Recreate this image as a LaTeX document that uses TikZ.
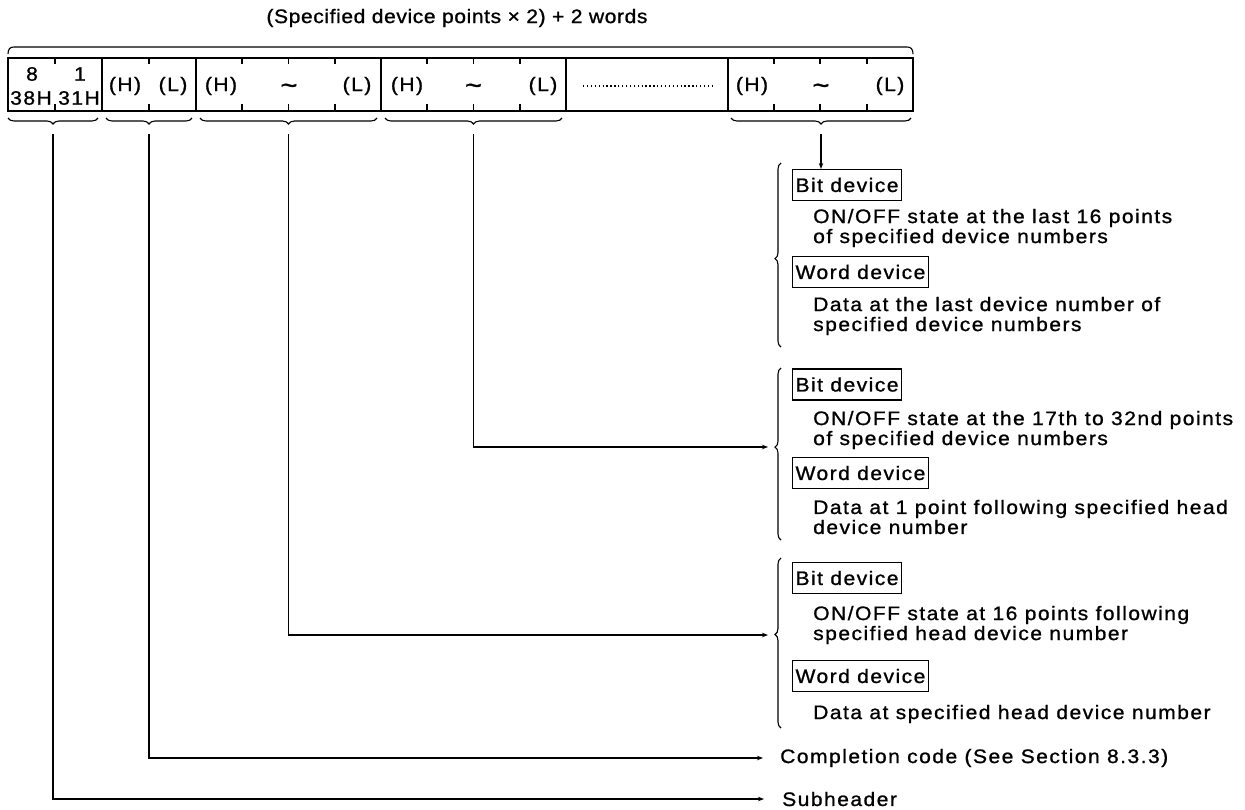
\documentclass[tikz,border=0pt]{standalone}
\usepackage{fontspec}
\setmainfont{Liberation Sans}[FakeStretch=1.08,LetterSpace=7.5,FakeBold=1]
\newfontfamily\titlefont{Liberation Sans}[FakeStretch=1.08,LetterSpace=3,FakeBold=1]
\usetikzlibrary{decorations.pathreplacing,arrows.meta}
\begin{document}
\begin{tikzpicture}[x=1pt,y=-1pt,
  txt/.style={inner sep=0pt, font=\fontsize{19.5}{20}\selectfont},
  lbl/.style={txt, anchor=west, align=left},
  devbox/.style={draw, line width=1.1pt, inner xsep=3pt, inner ysep=0pt, minimum height=31pt, anchor=west, font=\fontsize{19.5}{20}\selectfont},
  frameline/.style={line width=1.3pt},
  conn/.style={line width=1.1pt},
  arr/.style={conn, -{Stealth[length=6pt,width=4.5pt]}},
  hbrace/.style={line width=1.1pt, decorate, decoration={brace, amplitude=6pt, mirror}},
  tld/.style={inner sep=0pt, font=\fontsize{27}{27}\selectfont},
]
\useasboundingbox (0,0) rectangle (1245,809);

% title and top bracket
\node[inner sep=0pt, font=\fontsize{19.5}{20}\titlefont] (title) at (457,18) {(Specified device points × 2) + 2 words};
\draw[conn] (8,54) .. controls (8,49) and (10,47) .. (14,47) -- (907,47) .. controls (911,47) and (913,49) .. (913,54);

% frame
\draw[frameline] (8,58) rectangle (913,111);
\foreach \x in {102,196,381,566,728} \draw[frameline] (\x,58) -- (\x,111);
\foreach \x in {55,149,242,288.5,335,427,473.5,520,774,820,867} {
  \draw[conn] (\x,58) -- (\x,64);
  \draw[conn] (\x,104) -- (\x,111);
}

% frame contents
\node[txt] (n8) at (32,74) {8};
\node[txt] (n1) at (80,74) {1};
\node[txt] (n38) at (31,98) {38H};
\node[txt] (n31) at (79,98) {31H};
\node[txt] (b2h) at (125,86) {(H)};
\node[txt] (b2l) at (173,86) {(L)};
\node[txt] (b3h) at (221,86) {(H)};
\node[tld] (b3t) at (289,89) {\textasciitilde};
\node[txt] (b3l) at (357,86) {(L)};
\node[txt] (b4h) at (407,86) {(H)};
\node[tld] (b4t) at (473.5,89) {\textasciitilde};
\node[txt] (b4l) at (543,86) {(L)};
\node[txt] (b6h) at (752,86) {(H)};
\node[tld] (b6t) at (821,89) {\textasciitilde};
\node[txt] (b6l) at (890,86) {(L)};
\draw[line width=1.6pt, dash pattern=on 1.3pt off 2.6pt] (583,86) -- (712,86);

% braces under the frame
\draw[hbrace] (8,118) -- (98,118);
\draw[hbrace] (106,118) -- (192,118);
\draw[hbrace] (200,118) -- (377,118);
\draw[hbrace] (385,118) -- (562,118);
\draw[hbrace] (731,118) -- (911,118);
\coordinate (d1) at (53,134);
\coordinate (d2) at (149,134);
\coordinate (d3) at (288.5,134);
\coordinate (d4) at (473.5,134);
\coordinate (d5) at (821,134);

% right-hand braces
\draw[hbrace, decoration={aspect=0.52}] (781,163) -- (781,347);
\draw[hbrace, decoration={aspect=0.46}] (781,368) -- (781,540);
\draw[hbrace, decoration={aspect=0.45}] (781,558) -- (781,728);
\coordinate (rb2) at (768,447);
\coordinate (rb3) at (768,635);

% right-hand texts
\node[devbox] (bit1) at (792,185) {Bit device};
\node[lbl] (t1a) at (813,228) {ON/OFF state at the last 16 points\\of specified device numbers};
\node[devbox] (word1) at (792,272) {Word device};
\node[lbl] (t1b) at (813,316) {Data at the last device number of\\specified device numbers};

\node[devbox] (bit2) at (792,384.5) {Bit device};
\node[lbl] (t2a) at (813,430) {ON/OFF state at the 17th to 32nd points\\of specified device numbers};
\node[devbox] (word2) at (792,473) {Word device};
\node[lbl] (t2b) at (813,517) {Data at 1 point following specified head\\device number};

\node[devbox] (bit3) at (792,578) {Bit device};
\node[lbl] (t3a) at (813,625) {ON/OFF state at 16 points following\\specified head device number};
\node[devbox] (word3) at (792,676) {Word device};
\node[lbl] (t3b) at (813,714) {Data at specified head device number};

\node[lbl] (compl) at (780,758) {Completion code (See Section 8.3.3)};
\node[lbl] (subh) at (782,799) {Subheader};

% connectors
\draw[arr] (d5) -- (d5 |- bit1.north);
\draw[arr] (d4) |- (rb2);
\draw[arr] (d3) |- (rb3);
\draw[arr] (d2) |- ([xshift=-17pt]compl.west);
\draw[arr] (d1) |- ([xshift=-18pt]subh.west);
\end{tikzpicture}
\end{document}
